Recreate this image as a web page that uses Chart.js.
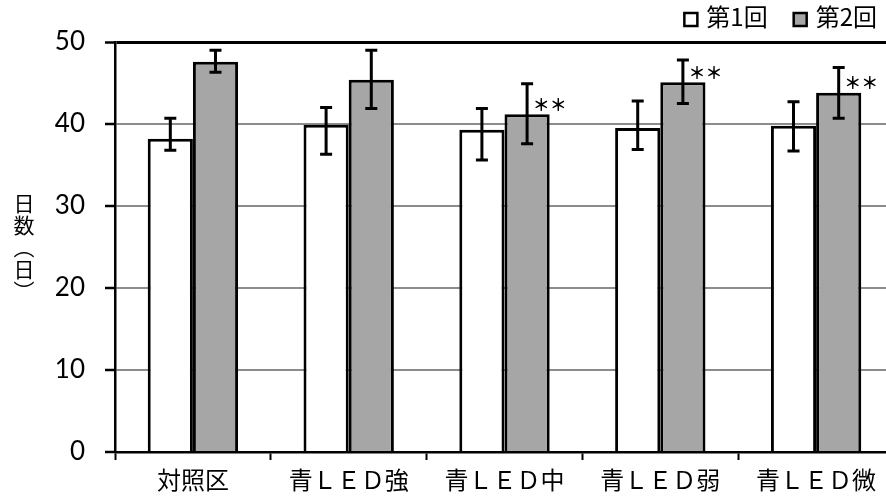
<!DOCTYPE html>
<html lang="ja">
<head>
<meta charset="utf-8">
<script src="https://cdn.jsdelivr.net/npm/chart.js@4.4.1/dist/chart.umd.min.js"></script>
<style>
  html, body { margin: 0; padding: 0; background: #fff; overflow: hidden; }
  #wrap { width: 894px; height: 501px; }
</style>
</head>
<body>
<div id="wrap"><canvas id="chart"></canvas></div>
<script>
const categories = ['対照区', '青ＬＥＤ強', '青ＬＥＤ中', '青ＬＥＤ弱', '青ＬＥＤ微'];
const seriesNames = ['第1回', '第2回'];
const round1 = [38.2, 39.9, 39.3, 39.5, 39.8];
const round1Upper = [40.7, 42.0, 41.9, 42.8, 42.7];
const round1Lower = [36.8, 36.3, 35.6, 36.9, 36.7];
const round2 = [47.6, 45.4, 41.2, 45.1, 43.8];
const round2Upper = [49.0, 49.0, 44.9, 47.8, 46.9];
const round2Lower = [46.3, 41.9, 37.6, 42.5, 40.7];
const round2Marks = ['', '', '＊＊', '＊＊', '＊＊'];
const yTicks = [0, 10, 20, 30, 40, 50];
const yTitle = ['日', '数', '︵', '日', '︶'];

const jpFont = '"Noto Sans CJK JP", "Noto Sans", sans-serif';

// error bars + significance marks
const errorBarPlugin = {
    id: 'errorBars',
    afterDatasetsDraw(chart) {
        const ctx = chart.ctx;
        const y = chart.scales.y;
        ctx.save();
        chart.data.datasets.forEach((ds, di) => {
            const meta = chart.getDatasetMeta(di);
            meta.data.forEach((bar, i) => {
                const top = y.getPixelForValue(ds.upper[i]);
                const bottom = y.getPixelForValue(ds.lower[i]);
                ctx.strokeStyle = '#000';
                ctx.lineWidth = 3;
                ctx.beginPath();
                ctx.moveTo(bar.x, top);
                ctx.lineTo(bar.x, bottom);
                ctx.moveTo(bar.x - 6, top);
                ctx.lineTo(bar.x + 6, top);
                ctx.moveTo(bar.x - 6, bottom);
                ctx.lineTo(bar.x + 6, bottom);
                ctx.stroke();
                const mark = ds.marks ? ds.marks[i] : '';
                if (mark) {
                    ctx.fillStyle = '#000';
                    ctx.font = 'bold 17px ' + jpFont;
                    ctx.textAlign = 'center';
                    ctx.textBaseline = 'middle';
                    ctx.fillText(mark, bar.x + bar.width / 2, bar.y - 10);
                }
            });
        });
        ctx.restore();
    }
};

// legend in the top right corner, small squares
const cornerLegend = {
    id: 'cornerLegend',
    afterDraw(chart) {
        const ctx = chart.ctx;
        ctx.save();
        ctx.font = '24px ' + jpFont;
        ctx.textBaseline = 'middle';
        ctx.textAlign = 'left';
        let x = 877;
        chart.data.datasets.slice().reverse().forEach(ds => {
            const w = ctx.measureText(ds.label).width;
            x -= w;
            ctx.fillStyle = '#000';
            ctx.fillText(ds.label, x, 17);
            x -= 9 + 13;
            ctx.fillStyle = ds.backgroundColor;
            ctx.fillRect(x, 13, 13, 13);
            ctx.lineWidth = 2.5;
            ctx.strokeStyle = '#000';
            ctx.strokeRect(x, 13, 13, 13);
            x -= 26;
        });
        ctx.restore();
    }
};

// vertical y axis title
const yTitlePlugin = {
    id: 'yTitle',
    afterDraw(chart) {
        const ctx = chart.ctx;
        ctx.save();
        ctx.font = '21px ' + jpFont;
        ctx.fillStyle = '#000';
        ctx.textAlign = 'center';
        ctx.textBaseline = 'middle';
        yTitle.forEach((ch, i) => ctx.fillText(ch, 24, 203 + i * 22));
        ctx.restore();
    }
};

new Chart(document.getElementById('chart'), {
    type: 'bar',
    data: {
        labels: categories,
        datasets: [{
            label: seriesNames[0],
            data: round1,
            upper: round1Upper,
            lower: round1Lower,
            backgroundColor: '#ffffff',
            borderColor: '#000000',
            borderWidth: 3
        }, {
            label: seriesNames[1],
            data: round2,
            upper: round2Upper,
            lower: round2Lower,
            marks: round2Marks,
            backgroundColor: '#a6a6a6',
            borderColor: '#000000',
            borderWidth: 3
        }]
    },
    options: {
        responsive: true,
        maintainAspectRatio: false,
        animation: false,
        devicePixelRatio: 1,
        categoryPercentage: 0.58,
        barPercentage: 1.0,
        layout: { padding: { top: 42, left: 0, right: 0, bottom: 0 } },
        plugins: {
            legend: { display: false },
            tooltip: { enabled: false }
        },
        scales: {
            y: {
                min: 0,
                max: 50,
                afterBuildTicks: s => { s.ticks = yTicks.map(v => ({ value: v })); },
                afterFit: s => { s.width = 115; },
                ticks: {
                    color: '#000',
                    font: { family: 'Lato', size: 26 },
                    padding: 20
                },
                grid: {
                    color: c => (c.tick && c.tick.value === 50) ? '#000' : '#8c8c8c',
                    lineWidth: c => (c.tick && c.tick.value === 50) ? 3 : 2,
                    tickColor: '#000',
                    tickLength: 10,
                    tickWidth: 2.5
                },
                border: { color: '#000', width: 2.5 }
            },
            x: {
                afterFit: s => { s.height = 49; },
                ticks: {
                    color: '#000',
                    font: { family: 'Noto Sans CJK JP', size: 24 },
                    padding: 5,
                    maxRotation: 0,
                    autoSkip: false
                },
                grid: {
                    drawOnChartArea: false,
                    offset: true,
                    tickColor: '#000',
                    tickLength: 8,
                    tickWidth: 2
                },
                border: { color: '#000', width: 2.5 }
            }
        }
    },
    plugins: [errorBarPlugin, cornerLegend, yTitlePlugin]
});
</script>
</body>
</html>
